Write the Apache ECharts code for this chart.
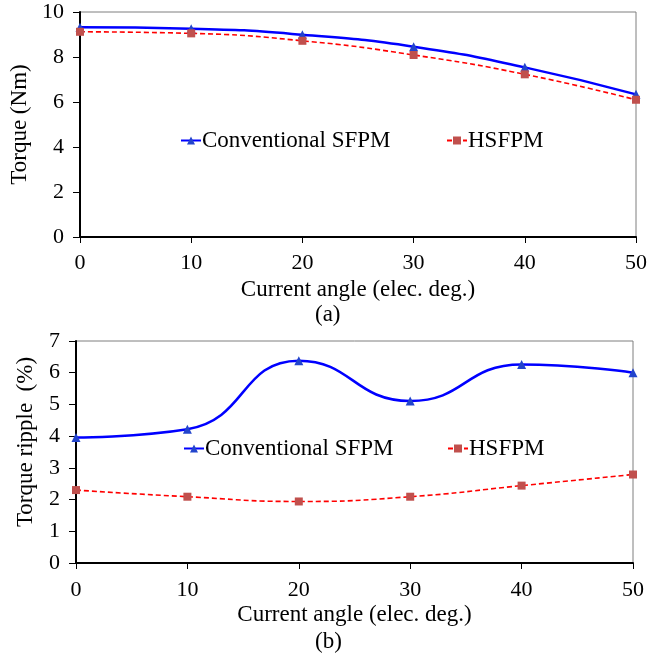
<!DOCTYPE html>
<html>
<head>
<meta charset="utf-8">
<script src="https://cdn.jsdelivr.net/npm/echarts@6/dist/echarts.min.js"></script>
<style>
  html, body { margin: 0; padding: 0; background: #fff; }
  #chart { width: 667px; height: 656px; }
</style>
</head>
<body>
<div id="chart"></div>
<script>
// current angle (elec. deg.)
const angles = [0, 10, 20, 30, 40, 50]

// (a) average torque, Nm
const torqueConv = [9.32, 9.26, 8.99, 8.46, 7.54, 6.34]
const torqueHsfpm = [9.12, 9.05, 8.72, 8.09, 7.23, 6.10]

// (b) torque ripple, %
const rippleConv = [3.96, 4.22, 6.38, 5.11, 6.26, 6.00]
const rippleHsfpm = [2.30, 2.09, 1.94, 2.09, 2.44, 2.79]

const NAME_CONV = 'Conventional SFPM'
const NAME_HS = 'HSFPM'
const FONT = 'Liberation Serif'

const chart = echarts.init(document.getElementById('chart'), null, { renderer: 'canvas' })

const toPairs = (ys) => angles.map((x, i) => [x, ys[i]])

function xAxisFor(gridIndex, labelMargin, nameGap) {
  return {
    gridIndex,
    type: 'value',
    min: 0,
    max: 50,
    interval: 10,
    name: 'Current angle (elec. deg.)',
    nameLocation: 'middle',
    nameGap,
    nameTextStyle: { fontFamily: FONT, fontSize: 23, color: '#000' },
    axisLine: { show: true, onZero: false, lineStyle: { color: '#000', width: 2 } },
    axisTick: { show: true, inside: false, length: 6, lineStyle: { color: '#000', width: 1 } },
    axisLabel: { fontFamily: FONT, fontSize: 22, color: '#000', margin: labelMargin },
    splitLine: { show: false }
  }
}

function yAxisFor(gridIndex, max, interval, name, nameGap, namePad) {
  return {
    gridIndex,
    type: 'value',
    min: 0,
    max,
    interval,
    name,
    nameLocation: 'middle',
    nameRotate: 90,
    nameGap,
    nameTextStyle: { fontFamily: FONT, fontSize: 23, color: '#000', padding: namePad },
    axisLine: { show: true, onZero: false, lineStyle: { color: '#000', width: 2 } },
    axisTick: { show: true, inside: false, length: 7, lineStyle: { color: '#000', width: 1 } },
    axisLabel: { fontFamily: FONT, fontSize: 22, color: '#000', margin: 16 },
    splitLine: { show: false }
  }
}

function convSeries(idx, data) {
  return {
    name: NAME_CONV,
    type: 'line',
    xAxisIndex: idx,
    yAxisIndex: idx,
    data: toPairs(data),
    smooth: 0.5,
    symbol: 'triangle',
    symbolSize: 9,
    itemStyle: { color: '#2244cc' },
    lineStyle: { color: '#0000ff', width: 2.5 }
  }
}

function hsSeries(idx, data) {
  return {
    name: NAME_HS,
    type: 'line',
    xAxisIndex: idx,
    yAxisIndex: idx,
    data: toPairs(data),
    smooth: 0.5,
    symbol: 'rect',
    symbolSize: 8,
    itemStyle: { color: '#c0504d' },
    lineStyle: { color: '#ff0000', width: 1.6, type: [5, 3] }
  }
}

function legendAt(name, left, top) {
  return {
    data: [name],
    left,
    top,
    itemWidth: 20,
    itemHeight: 10,
    itemGap: 0,
    selectedMode: false,
    textStyle: { fontFamily: FONT, fontSize: 23, color: '#000', padding: [0, 0, 0, -4] }
  }
}

const option = {
  animation: false,
  backgroundColor: '#fff',
  grid: [
    { left: 80, right: 31, top: 12, height: 225, show: true, borderColor: '#7f7f7f', borderWidth: 1 },
    { left: 76, right: 34, top: 341, height: 222, show: true, borderColor: '#7f7f7f', borderWidth: 1 }
  ],
  xAxis: [xAxisFor(0, 15, 41), xAxisFor(1, 16, 40)],
  yAxis: [
    yAxisFor(0, 10, 2, 'Torque (Nm)', 43, 0),
    yAxisFor(1, 7, 1, 'Torque ripple  (%)', 39, [0, 0, 0, 20])
  ],
  legend: [
    legendAt(NAME_CONV, 175, 124),
    legendAt(NAME_HS, 441, 124),
    legendAt(NAME_CONV, 178, 432),
    legendAt(NAME_HS, 442, 432)
  ],
  graphic: [
    { type: 'text', left: 315, top: 303, style: { text: '(a)', font: '23px "Liberation Serif"', fill: '#000' } },
    { type: 'text', left: 315, top: 630, style: { text: '(b)', font: '23px "Liberation Serif"', fill: '#000' } }
  ],
  series: [
    convSeries(0, torqueConv),
    hsSeries(0, torqueHsfpm),
    convSeries(1, rippleConv),
    hsSeries(1, rippleHsfpm)
  ]
}

chart.setOption(option)
</script>
</body>
</html>
